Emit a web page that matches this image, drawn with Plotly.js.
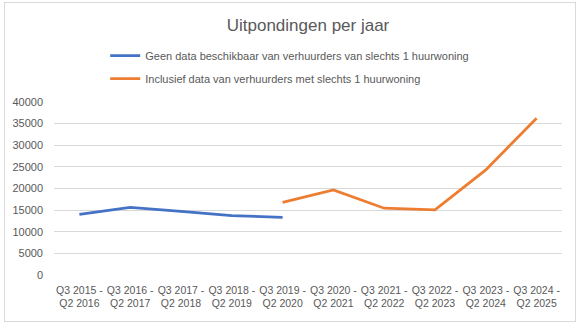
<!DOCTYPE html>
<html><head><meta charset="utf-8">
<script src="https://cdn.plot.ly/plotly-3.0.1.min.js"></script>
<style>
html,body{margin:0;padding:0;background:#fff;}
#wrap{position:relative;width:581px;height:328px;}
#chart{width:581px;height:328px;}
#frame{position:absolute;left:4px;top:2px;width:570px;height:318px;border:1px solid #d9d9d9;pointer-events:none;}
</style></head>
<body><div id="wrap"><div id="chart"></div><div id="frame"></div></div>
<script>
const categories = ["Q3 2015 -<br>Q2 2016","Q3 2016 -<br>Q2 2017","Q3 2017 -<br>Q2 2018","Q3 2018 -<br>Q2 2019","Q3 2019 -<br>Q2 2020","Q3 2020 -<br>Q2 2021","Q3 2021 -<br>Q2 2022","Q3 2022 -<br>Q2 2023","Q3 2023 -<br>Q2 2024","Q3 2024 -<br>Q2 2025"];
const seriesNames = ["Geen data beschikbaar van verhuurders van slechts 1 huurwoning","Inclusief data van verhuurders met slechts 1 huurwoning"];
const geenData = [14000, 15650, 14700, 13750, 13350, null, null, null, null, null];
const inclusief = [null, null, null, null, 16800, 19650, 15450, 15050, 24300, 36250];
const yTicks = [0,5000,10000,15000,20000,25000,30000,35000,40000];

const fam = "Liberation Sans, Arial, sans-serif";
const traces = [
  {x:categories, y:geenData, name:seriesNames[0], legendgroup:"a", type:"scatter", mode:"lines", line:{color:"#4472C4", width:2.75}, connectgaps:false},
  {x:categories, y:inclusief, name:seriesNames[1], legendgroup:"b", type:"scatter", mode:"lines", line:{color:"#ED7D31", width:2.75}, connectgaps:false}
];
const layout = {
  width:581, height:328,
  margin:{l:54, r:19, t:102, b:53},
  paper_bgcolor:"#fff", plot_bgcolor:"#fff",
  font:{family:fam, color:"#595959", size:11},
  showlegend:true,
  title:{text:"Uitpondingen per jaar", font:{family:fam, size:17, color:"#595959"}, x:0.5, xref:"paper", xanchor:"center", y:0.925, yanchor:"middle"},
  legend:{orientation:"v", traceorder:"grouped", tracegroupgap:4, x:0.1008, xanchor:"left", y:1.3526, yanchor:"top", font:{family:fam, size:11, color:"#595959"}, itemwidth:30, bgcolor:"rgba(0,0,0,0)"},
  xaxis:{type:"category", range:[-0.5, 9.5], showgrid:false, zeroline:false, showline:false, ticks:"", tickangle:0, ticklabelstandoff:7, tickfont:{family:fam, size:10.5, color:"#595959"}, fixedrange:true},
  yaxis:{range:[0,40000], tickvals:yTicks, tickformat:"d", showgrid:true, gridcolor:"#d9d9d9", gridwidth:1, zeroline:false, showline:false, ticks:"", ticklabelstandoff:10, tickfont:{family:fam, size:11, color:"#595959"}, fixedrange:true}
};
Plotly.newPlot("chart", traces, layout, {displayModeBar:false, staticPlot:true});
</script></body></html>
